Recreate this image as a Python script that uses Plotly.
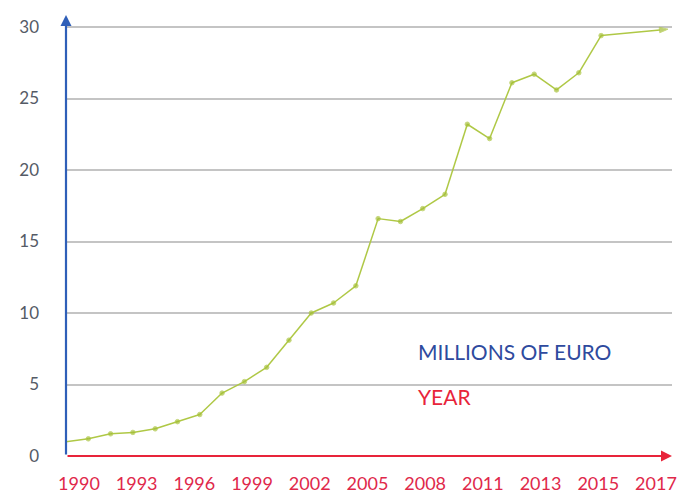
import numpy as np
import plotly.graph_objects as go

# Data (millions of euro per year)
years = [1990, 1991, 1992, 1993, 1994, 1995, 1996, 1997, 1998, 1999,
         2000, 2001, 2002, 2003, 2004, 2005, 2006, 2007, 2008, 2009,
         2010, 2011, 2012, 2013, 2014, 2017]
values = [1.0, 1.2, 1.55, 1.65, 1.9, 2.4, 2.9, 4.4, 5.2, 6.2,
          8.1, 10.0, 10.7, 11.9, 16.6, 16.4, 17.3, 18.3, 23.2, 22.2,
          26.1, 26.7, 25.6, 26.8, 29.4, 29.85]
tick_labels = ["1990", "1993", "1996", "1999", "2002", "2005",
               "2008", "2011", "2013", "2015", "2017"]
y_ticks = [0, 5, 10, 15, 20, 25, 30]

BLUE = "#2f5fb8"
RED = "#e8243a"
GREEN = "#afc845"
FONT = "Lato, 'Open Sans', sans-serif"

x_min, x_max = 1990, 2017.18
y_min, y_max = 0, 30.84

symbols = ["circle"] * (len(years) - 1) + ["arrow"]
sizes = [4.5] * (len(years) - 1) + [9]

fig = go.Figure()
fig.add_trace(go.Scatter(
    x=years, y=values, mode="lines+markers",
    line=dict(color=GREEN, width=1.5),
    marker=dict(color="#a2bd34", size=sizes, symbol=symbols, angleref="previous"),
    showlegend=False, hoverinfo="x+y",
))

# evenly spaced year labels (as in the original, independent of data spacing)
tick_pos = list(np.linspace(x_min + 0.58, x_min + 26.46, len(tick_labels)))

# page body has an 8px margin, so the figure is sized to the visible area
fig.update_layout(
    width=683, height=487,
    margin=dict(l=58, r=19, t=7, b=39),
    paper_bgcolor="white", plot_bgcolor="white",
    font=dict(family=FONT),
    xaxis=dict(range=[x_min, x_max], showgrid=False, zeroline=False, showline=False,
               tickvals=tick_pos, ticktext=tick_labels, automargin=False,
               tickfont=dict(size=18, color="#e0284a", family=FONT),
               ticks="", ticklabelstandoff=15),
    yaxis=dict(range=[y_min, y_max], tickvals=y_ticks, showgrid=True, automargin=False,
               gridcolor="#c4c4c4", gridwidth=1.5, zeroline=False, showline=False,
               tickfont=dict(size=17, color="#555b66", family=FONT),
               ticks="", ticklabelstandoff=26),
    annotations=[
        # y-axis arrow (blue)
        dict(x=x_min, y=y_max, ax=x_min, ay=y_min, xref="x", yref="y",
             axref="x", ayref="y", showarrow=True, arrowhead=2, arrowsize=1,
             arrowwidth=2.2, arrowcolor=BLUE, text=""),
        # x-axis arrow (red)
        dict(x=x_max, y=y_min, ax=x_min, ay=y_min, xref="x", yref="y",
             axref="x", ayref="y", showarrow=True, arrowhead=2, arrowsize=1,
             arrowwidth=2.2, arrowcolor=RED, text=""),
        dict(x=0.578, y=0.236, xref="paper", yref="paper", xanchor="left",
             yanchor="middle", showarrow=False, text="MILLIONS OF EURO",
             font=dict(size=21, color="#2e4a9e", family=FONT)),
        dict(x=0.578, y=0.135, xref="paper", yref="paper", xanchor="left",
             yanchor="middle", showarrow=False, text="YEAR",
             font=dict(size=21, color=RED, family=FONT)),
    ],
)

fig.write_html("out.html")
